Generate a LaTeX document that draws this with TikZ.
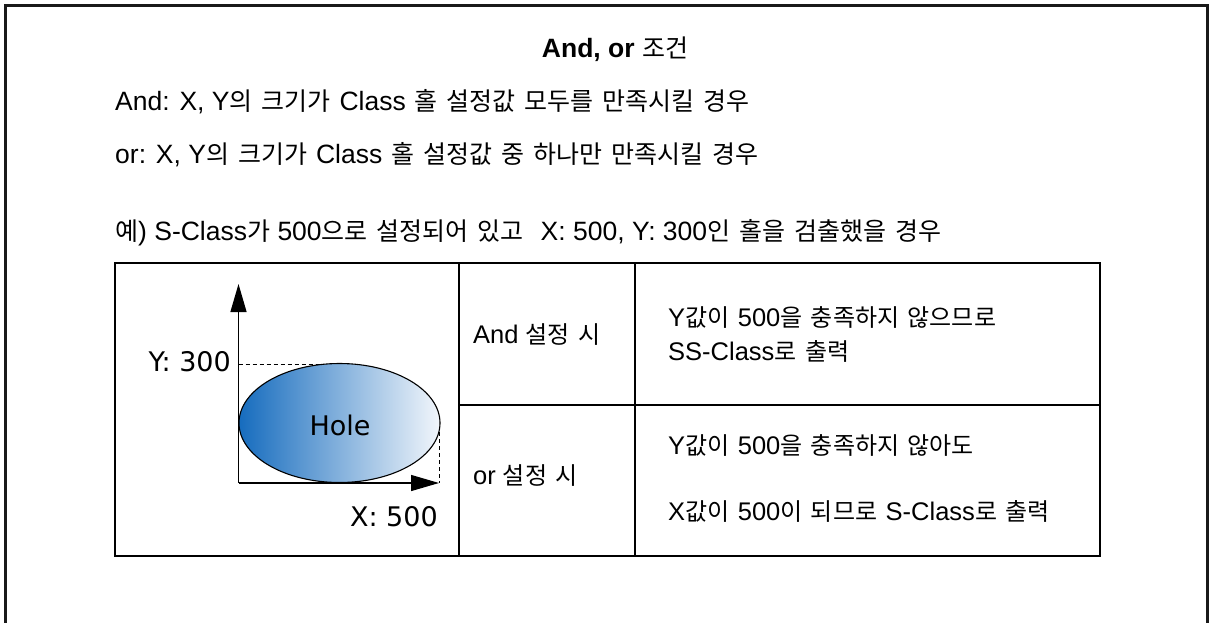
\documentclass[tikz,border=0pt]{standalone}
\usepackage{fontspec}
\setmainfont{Liberation Sans}
\newfontfamily\kofont{Noto Sans CJK KR}
\newfontfamily\dvfont{DejaVu Sans}
\usetikzlibrary{arrows.meta,shapes.geometric}
% Korean runs: heading size and table-cell size
\newcommand\K[1]{{\kofont\fontsize{25}{28}\selectfont\spaceskip=9pt\relax #1}}
\newcommand\KC[1]{{\kofont\fontsize{24}{27}\selectfont\spaceskip=8.5pt\relax #1}}
\definecolor{holeL}{RGB}{22,108,190}
\definecolor{holeR}{RGB}{242,246,251}
\definecolor{framec}{RGB}{25,25,25}
\tikzset{
  txt/.style={inner sep=0pt, anchor=west, font=\fontsize{26.5}{30}\selectfont},
  celltxt/.style={inner sep=0pt, anchor=west, font=\fontsize{25.5}{30}\selectfont},
  ttl/.style={inner sep=0pt, font=\fontsize{26.5}{30}\selectfont},
  figtxt/.style={inner sep=0pt, font=\dvfont\fontsize{27}{32}\selectfont},
  frameline/.style={line width=3pt, draw=framec},
  tblline/.style={line width=2.6pt, draw=black},
  axisline/.style={line width=1.3pt, -{Triangle[length=28pt,width=16pt]}},
  guide/.style={line width=1pt, dash pattern=on 4pt off 3pt},
}
\begin{document}
\begin{tikzpicture}[x=1pt,y=-1pt]
\useasboundingbox (0,0) rectangle (1211,622);
% outer frame (bottom edge is outside the picture)
\coordinate (FL) at (5.5,640);
\coordinate (FTL) at (5.5,5.5);
\coordinate (FTR) at (1207,5.5);
\coordinate (FR) at (1207,640);
\draw[frameline] (FL) -- (FTL) -- (FTR) -- (FR);

% heading texts
\node[ttl] (title) at (615,49) {\textbf{And, or} \K{조건}};
\node[txt] (l1) at (115,102) {And: X, Y\K{의 크기가 }Class\K{ 홀 설정값 모두를 만족시킬 경우}};
\node[txt] (l2) at (115,155) {or: X, Y\K{의 크기가 }Class\K{ 홀 설정값 중 하나만 만족시킬 경우}};
\node[txt] (l3) at (115,233) {\K{예}) S-Class\K{가} 500\K{으로 설정되어 있고}\hspace{17pt}X: 500, Y: 300\K{인 홀을 검출했을 경우}};

% table
\coordinate (TL) at (115,263);
\coordinate (BR) at (1100,556);
\coordinate (c1t) at (459,263);
\coordinate (c1b) at (459,556);
\coordinate (c2t) at (635,263);
\coordinate (c2b) at (635,556);
\coordinate (rl) at (459,405);
\coordinate (rr) at (1100,405);
\draw[tblline] (TL) rectangle (BR);
\draw[tblline] (c1t) -- (c1b);
\draw[tblline] (c2t) -- (c2b);
\draw[tblline] (rl) -- (rr);

\node[celltxt] (andset) at (473,335) {And \KC{설정 시}};
\node[celltxt] (orset) at (473,476) {or \KC{설정 시}};
\node[celltxt] (r1a) at (668,317) {Y\KC{값이 }500\KC{을 충족하지 않으므로}};
\node[celltxt] (r1b) at (668,351) {SS-Class\KC{로 출력}};
\node[celltxt] (r2a) at (668,445) {Y\KC{값이 }500\KC{을 충족하지 않아도}};
\node[celltxt] (r2b) at (668,511) {X\KC{값이 }500\KC{이 되므로 }S-Class\KC{로 출력}};

% figure
\coordinate (O) at (238.5,483);
\coordinate (Ytip) at (238.5,284);
\coordinate (Xtip) at (439,483);
\coordinate (Ytick) at (238.5,364);
\coordinate (Etop) at (339.5,364);
\coordinate (Eright) at (439,432);
\coordinate (Xfoot) at (439,483);
\draw[guide] (Ytick) -- (Etop);
\draw[guide] (Eright) -- (Xfoot);
\node[draw=black, line width=1.1pt, ellipse, minimum width=201pt, minimum height=119pt, inner sep=0pt,
      left color=holeL, right color=holeR] (hole) at (339.5,423) {};
\node[figtxt] (holet) at (340,425) {Hole};
\draw[axisline] (O) -- (Ytip);
\draw[axisline] (O) -- (Xtip);
\node[figtxt, anchor=east] (ylab) at (231,362) {Y: 300};
\node[figtxt, anchor=east] (xlab) at (438,517) {X: 500};
\end{tikzpicture}
\end{document}
